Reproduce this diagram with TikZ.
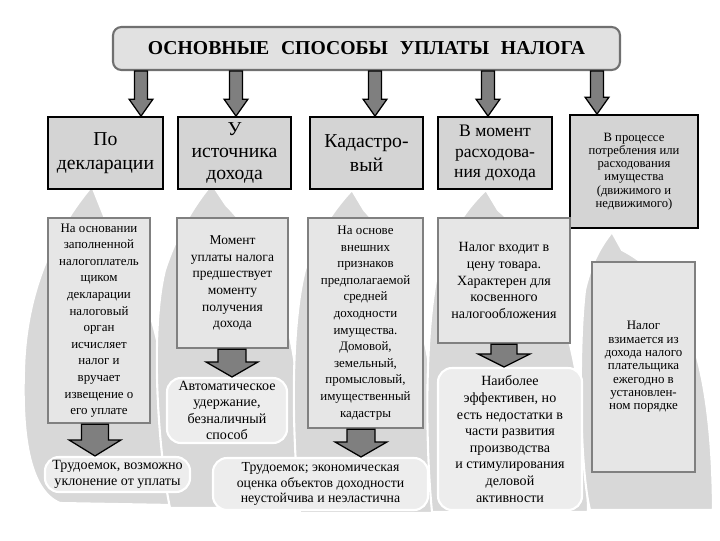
\documentclass[tikz,border=0pt]{standalone}
\usepackage{fontspec}
\setmainfont{Liberation Serif}
\usetikzlibrary{calc}
\definecolor{topfill}{HTML}{D4D4D4}
\definecolor{midfill}{HTML}{E6E6E6}
\definecolor{midline}{HTML}{808080}
\definecolor{rndfill}{HTML}{EDEDED}
\definecolor{bgflame}{HTML}{D8D8D8}
\definecolor{arrfill}{HTML}{7F7F7F}
\definecolor{titlefill}{HTML}{E1E1E1}
\definecolor{titleline}{HTML}{707070}
\def\px{0.70866pt}
\newcommand\fatarrow[5]{%
  \draw[arrshape] let \p1=(#1), \p2=(#2) in
    (\x1-#3*\px,\y1) -- (\x1+#3*\px,\y1) -- (\x1+#3*\px,\y2+#5*\px) --
    (\x1+#4*\px,\y2+#5*\px) -- (\x1,\y2) -- (\x1-#4*\px,\y2+#5*\px) --
    (\x1-#3*\px,\y2+#5*\px) -- cycle;}
\tikzset{
  sz/.style 2 args={minimum width=#1*0.025cm, minimum height=#2*0.025cm},
  titlebox/.style={draw=titleline, line width=1.5pt, fill=titlefill, rounded corners=6pt,
    inner sep=0pt, font=\bfseries\fontsize{14}{16}\selectfont},
  topbox/.style={draw=black, line width=1.3pt, fill=topfill, inner sep=1pt, align=center,
    font=\fontsize{14}{17.5}\selectfont},
  midbox/.style={draw=midline, line width=1.6pt, fill=midfill, inner sep=1pt, align=center,
    font=\fontsize{10}{11.8}\selectfont},
  rndbox/.style={draw=white, line width=1.5pt, fill=rndfill, rounded corners=10pt,
    inner sep=1pt, align=center, font=\fontsize{10}{11.8}\selectfont},
  arrshape/.style={fill=arrfill, draw=black, line width=0.9pt},
  flame/.style={fill=bgflame, draw=white, line width=1.5pt},
}
\begin{document}
\begin{tikzpicture}[x=0.025cm, y=-0.025cm]
\fill[white] (0,0) rectangle (720,540);
\useasboundingbox (0,0) rectangle (720,540);

% background flames
\draw[flame] (92,186) -- (104,216) .. controls (150,280) and (175,380) .. (172,505)
  -- (60,503) .. controls (28,490) and (22,430) .. (24,370)
  .. controls (26,290) and (55,230) .. cycle;
\draw[flame] (212,184) -- (226,205) .. controls (280,260) and (305,350) .. (303,508)
  -- (170,508) .. controls (158,450) and (150,330) .. (165,270)
  .. controls (178,230) and (198,200) .. cycle;
\draw[flame] (352,190) -- (364,210) .. controls (410,260) and (440,350) .. (440,513)
  -- (300,513) .. controls (292,440) and (290,330) .. (305,270)
  .. controls (318,230) and (338,205) .. cycle;
\draw[flame] (486,190) -- (498,210) .. controls (545,250) and (585,330) .. (588,512)
  -- (432,512) .. controls (425,440) and (425,330) .. (438,270)
  .. controls (450,230) and (470,205) .. cycle;
\draw[flame] (612,232) -- (622,250) .. controls (680,280) and (712,350) .. (713,510)
  -- (590,510) .. controls (580,470) and (578,350) .. (585,290)
  .. controls (592,260) and (602,245) .. cycle;

% title
\node[titlebox, sz={507}{43}] (title) at (366.5,48.5)
  {ОСНОВНЫЕ\hspace{0.6em}СПОСОБЫ\hspace{0.6em}УПЛАТЫ\hspace{0.6em}НАЛОГА};

% top row
\node[topbox, sz={115}{72}] (t1) at (105.5,153) {По\\декларации};
\node[topbox, sz={113}{72}, font=\fontsize{14}{15.5}\selectfont] (t2) at (234.5,153)
  {У\\источника\\дохода};
\node[topbox, sz={113}{72}] (t3) at (366.5,153) {Кадастро-\\вый};
\node[topbox, sz={114}{72}, font=\fontsize{12.5}{14.5}\selectfont] (t4) at (495,153)
  {В момент\\расходова-\\ния дохода};
\node[topbox, sz={128}{113}, font=\fontsize{9}{9.4}\selectfont] (t5) at (634,171.5)
  {В процессе\\потребления или\\расходования\\имущества\\(движимого и\\недвижимого)};

% middle row
\node[midbox, sz={102}{205}, font=\fontsize{9.2}{11.8}\selectfont] (m1) at (99,320.5)
  {На основании\\заполненной\\налогоплатель\\щиком\\декларации\\налоговый\\орган\\исчисляет\\налог и\\вручает\\извещение о\\его уплате};
\node[midbox, sz={111}{130}, font=\fontsize{9.6}{11.8}\selectfont] (m2) at (232.5,283)
  {Момент\\уплаты налога\\предшествует\\моменту\\получения\\дохода};
\node[midbox, sz={115}{210}, font=\fontsize{9.2}{11.8}\selectfont] (m3) at (365.5,323)
  {На основе\\внешних\\признаков\\предполагаемой\\средней\\доходности\\имущества.\\Домовой,\\земельный,\\промысловый,\\имущественный\\кадастры};
\node[midbox, sz={132}{125}] (m4) at (504,280.5)
  {Налог входит в\\цену товара.\\Характерен для\\косвенного\\налогообложения};
\node[midbox, sz={103}{210}, font=\fontsize{9.2}{9.5}\selectfont] (m5) at (643.5,367)
  {Налог\\взимается из\\дохода налого\\плательщика\\ежегодно в\\установлен-\\ном порядке};

% rounded result boxes
\node[rndbox, sz={120}{65}] (r2) at (227,410.5)
  {Автоматическое\\удержание,\\безналичный\\способ};
\node[rndbox, sz={144}{142}] (r4) at (510,439)
  {Наиболее\\эффективен, но\\есть недостатки в\\части развития\\производства\\и стимулирования\\деловой\\активности};
\node[rndbox, sz={145}{35}] (b1) at (117.5,474.5)
  {Трудоемок, возможно\\уклонение от уплаты};
\node[rndbox, sz={215}{52}, font=\fontsize{9.8}{10.8}\selectfont] (b3) at (320.5,484)
  {Трудоемок; экономическая\\оценка объектов доходности\\неустойчива и неэластична};

% arrow x positions
\coordinate (a1) at (141,0);
\coordinate (a2) at (236,0);
\coordinate (a3) at (375,0);
\coordinate (a4) at (488,0);
\coordinate (a5) at (597,0);
\coordinate (c1) at (95,0);
\coordinate (c2) at (232,0);
\coordinate (c3) at (361,0);
\coordinate (c4) at (504,0);

% top arrows
\fatarrow{title.south -| a1}{t1.north -| a1}{6.5}{12}{17}
\fatarrow{title.south -| a2}{t2.north -| a2}{6.5}{12}{17}
\fatarrow{title.south -| a3}{t3.north -| a3}{6.5}{12}{17}
\fatarrow{title.south -| a4}{t4.north -| a4}{6.5}{12}{17}
\fatarrow{title.south -| a5}{t5.north -| a5}{6.5}{12}{17}

% lower arrows
\fatarrow{m1.south -| c1}{b1.north -| c1}{13.5}{26}{16}
\fatarrow{m2.south -| c2}{r2.north -| c2}{14}{26}{15}
\fatarrow{m3.south -| c3}{b3.north -| c3}{14}{26}{15}
\fatarrow{m4.south -| c4}{r4.north -| c4}{13}{26}{13}
\end{tikzpicture}
\end{document}
